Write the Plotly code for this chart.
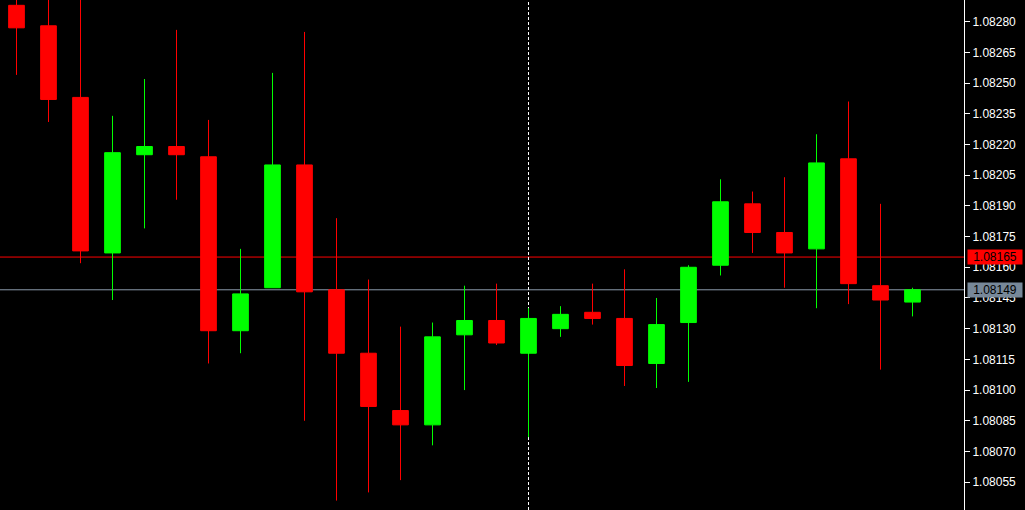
import plotly.graph_objects as go

# ---- data ----
bar_index = list(range(29))
opens = [1.08288, 1.08278, 1.08243, 1.08167, 1.08215, 1.08219, 1.08214, 1.08129,
         1.08150, 1.08210, 1.08149, 1.08118, 1.08090, 1.08083, 1.08127, 1.08134,
         1.08118, 1.08130, 1.08138, 1.08135, 1.08113, 1.08133, 1.08161, 1.08191,
         1.08177, 1.08169, 1.08213, 1.08151, 1.08143]
highs = [1.08295, 1.08298, 1.08302, 1.08234, 1.08252, 1.08276, 1.08232, 1.08169,
         1.08255, 1.08275, 1.08184, 1.08154, 1.08131, 1.08133, 1.08151, 1.08152,
         1.08140, 1.08141, 1.08152, 1.08159, 1.08145, 1.08161, 1.08203, 1.08197,
         1.08204, 1.08225, 1.08241, 1.08191, 1.08150]
lows = [1.08254, 1.08231, 1.08162, 1.08144, 1.08179, 1.08193, 1.08113, 1.08118,
        1.08150, 1.08085, 1.08046, 1.08050, 1.08056, 1.08073, 1.08100, 1.08122,
        1.08077, 1.08126, 1.08132, 1.08102, 1.08101, 1.08104, 1.08156, 1.08167,
        1.08150, 1.08140, 1.08142, 1.08110, 1.08136]
closes = [1.08277, 1.08242, 1.08168, 1.08216, 1.08219, 1.08215, 1.08129, 1.08147,
          1.08210, 1.08148, 1.08118, 1.08092, 1.08083, 1.08126, 1.08134, 1.08123,
          1.08135, 1.08137, 1.08135, 1.08112, 1.08132, 1.08160, 1.08192, 1.08177,
          1.08167, 1.08211, 1.08152, 1.08144, 1.08149]
tick_values = [1.08055, 1.08070, 1.08085, 1.08100, 1.08115, 1.08130, 1.08145, 1.08160,
               1.08175, 1.08190, 1.08205, 1.08220, 1.08235, 1.08250, 1.08265, 1.08280]
ask_price = 1.08165
bid_price = 1.08149
separator_index = 16

FONT = "Liberation Sans"

fig = go.Figure()
fig.add_trace(go.Candlestick(
    x=bar_index, open=opens, high=highs, low=lows, close=closes,
    increasing=dict(line=dict(color="#00FF00", width=1), fillcolor="#00FF00"),
    decreasing=dict(line=dict(color="#FF0000", width=1), fillcolor="#FF0000"),
    whiskerwidth=0, hoverinfo="skip", showlegend=False,
))

# ask / bid lines
fig.add_shape(type="line", xref="paper", x0=0, x1=1, yref="y", y0=ask_price, y1=ask_price,
              line=dict(color="#FF0000", width=1), layer="below")
fig.add_shape(type="line", xref="paper", x0=0, x1=1, yref="y", y0=bid_price, y1=bid_price,
              line=dict(color="#8A9AAA", width=1), layer="below")
# vertical dashed separator
fig.add_shape(type="line", xref="x", x0=separator_index, x1=separator_index,
              yref="paper", y0=0, y1=1,
              line=dict(color="white", width=1, dash="3px,2px"), layer="below")

# price labels on the axis
for price, bg in [(ask_price, "#FF0000"), (bid_price, "#778899")]:
    fig.add_annotation(xref="paper", x=1, xanchor="left", xshift=3,
                       yref="y", y=price, yanchor="middle",
                       text=f"{price:.5f}", showarrow=False,
                       bgcolor=bg, width=54, height=14, borderpad=0,
                       font=dict(family=FONT, size=12, color="black"))

fig.update_layout(
    width=1025, height=510,
    margin=dict(l=0, r=61, t=0, b=0),
    paper_bgcolor="black", plot_bgcolor="black",
    showlegend=False, boxgap=0.3, hovermode=False,
    xaxis=dict(visible=False, range=[-0.515625, 29.609375], rangeslider=dict(visible=False),
               fixedrange=True),
    yaxis=dict(side="right", range=[1.080414, 1.082906], tickvals=tick_values,
               tickformat=".5f", ticks="outside", ticklen=5, tickcolor="white",
               tickwidth=1, showline=True, linecolor="white", linewidth=1,
               showgrid=False, zeroline=False, fixedrange=True,
               tickfont=dict(family=FONT, size=12, color="white")),
)

fig.write_html("out.html", config={"displayModeBar": False},
               post_script="document.body.style.margin='0';document.body.style.background='black';document.body.style.overflow='hidden';")
